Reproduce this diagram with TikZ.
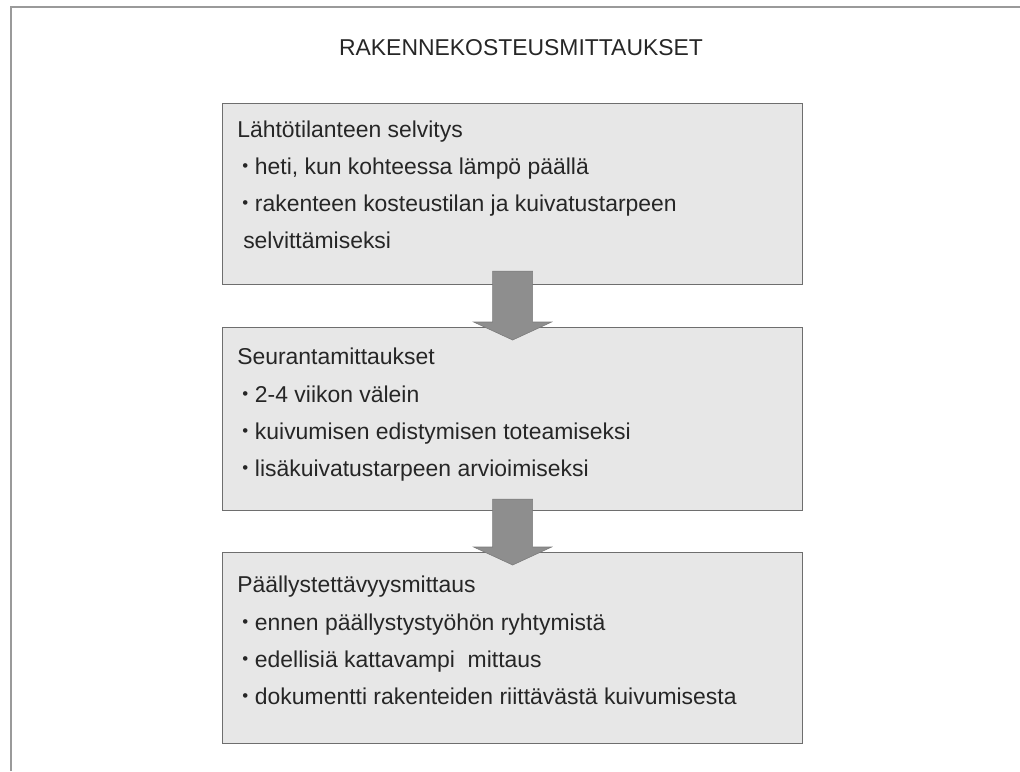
\documentclass[tikz,border=0pt]{standalone}
\usepackage{fontspec}
\setmainfont{Liberation Sans}
\usetikzlibrary{calc}
\definecolor{boxgray}{HTML}{E7E7E7}
\definecolor{boxline}{HTML}{6E6E6E}
\definecolor{arrowgray}{HTML}{8E8E8E}
\definecolor{arrowline}{HTML}{7A7A7A}
\definecolor{textgray}{HTML}{262626}
\definecolor{framegray}{HTML}{9A9A9A}
\newcommand\luetelma{\raisebox{0.1em}{\fontsize{12}{12}\selectfont\textbullet}\hspace{0.17cm}}
\begin{document}
\begin{tikzpicture}[x=0.025cm,y=-0.025cm,
  box/.style={draw=boxline,fill=boxgray,line width=0.8pt,minimum width=14.5cm,
    anchor=north west,inner sep=0pt},
  txt/.style={anchor=base west,inner sep=0pt,text=textgray,font=\fontsize{16.3}{18}\selectfont},
  blockarrow/.style={fill=arrowgray,draw=arrowline,line width=0.4pt}]
\useasboundingbox (0,0) rectangle (1020,771);

% frame of the page
\draw[framegray,line width=1.2pt] (11,771) -- (11,7) -- (1020,7);

\node[anchor=base,inner sep=0pt,text=textgray,font=\fontsize{16.3}{18}\selectfont] (otsikko) at (521,55)
  {RAKENNEKOSTEUSMITTAUKSET};

% the three boxes
\node[box,minimum height=4.525cm] (lahto) at (222,103) {};
\node[box,minimum height=4.575cm] (seuranta) at (222,327) {};
\node[box,minimum height=4.775cm] (paallyste) at (222,552) {};

% arrows between the boxes
\filldraw[blockarrow] ($(lahto.south)+(-20,-14)$) -- ($(seuranta.north)+(-20,-5)$)
  -- ($(seuranta.north)+(-39,-5)$) -- ($(seuranta.north)+(0,13)$)
  -- ($(seuranta.north)+(39,-5)$) -- ($(seuranta.north)+(20,-5)$)
  -- ($(lahto.south)+(20,-14)$) -- cycle;
\filldraw[blockarrow] ($(seuranta.south)+(-20,-12)$) -- ($(paallyste.north)+(-20,-5)$)
  -- ($(paallyste.north)+(-39,-5)$) -- ($(paallyste.north)+(0,13)$)
  -- ($(paallyste.north)+(39,-5)$) -- ($(paallyste.north)+(20,-5)$)
  -- ($(seuranta.south)+(20,-12)$) -- cycle;

% texts
\node[txt] (l0) at (237,137) {Lähtötilanteen selvitys};
\node[txt] (l1) at (242,174) {\luetelma heti, kun kohteessa lämpö päällä};
\node[txt] (l2) at (242,211) {\luetelma rakenteen kosteustilan ja kuivatustarpeen};
\node[txt] (l3) at (243,248) {selvittämiseksi};

\node[txt] (s0) at (237,364) {Seurantamittaukset};
\node[txt] (s1) at (242,402) {\luetelma 2-4 viikon välein};
\node[txt] (s2) at (242,439) {\luetelma kuivumisen edistymisen toteamiseksi};
\node[txt] (s3) at (242,476) {\luetelma lisäkuivatustarpeen arvioimiseksi};

\node[txt] (p0) at (237,592) {Päällystettävyysmittaus};
\node[txt] (p1) at (242,630) {\luetelma ennen päällystystyöhön ryhtymistä};
\node[txt] (p2) at (242,667) {\luetelma edellisiä kattavampi\ \ mittaus};
\node[txt] (p3) at (242,704) {\luetelma dokumentti rakenteiden riittävästä kuivumisesta};
\end{tikzpicture}
\end{document}
